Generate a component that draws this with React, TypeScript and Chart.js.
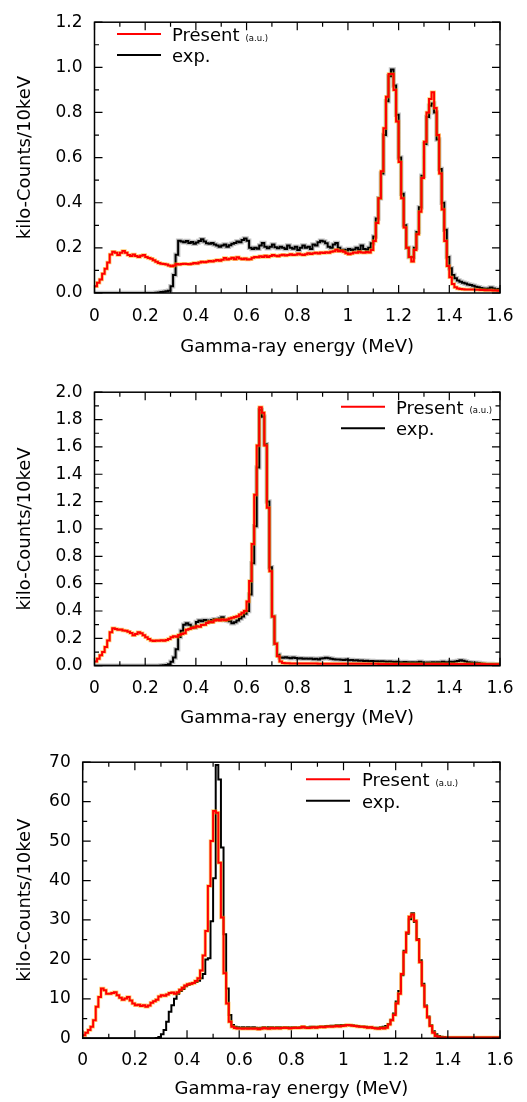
import React, { useEffect, useRef } from "react";
import { Chart, registerables } from "chart.js";

Chart.register(...registerables);

const FONT = '"DejaVu Sans", "Liberation Sans", sans-serif';
const BIN_MEV = 0.01;
const X_MAX = 1.6;

const xTitle = "Gamma-ray energy (MeV)";
const yTitle = "kilo-Counts/10keV";
const seriesNames = ["Present", "exp."];
const unitNote = "(a.u.)";

// ---------- panel 1 (kilo-counts per 10 keV bin, bins start at 0.00 MeV) ----------
const present1 = [
  0.030, 0.045, 0.060, 0.085, 0.107, 0.135, 0.171, 0.183, 0.178, 0.168,
  0.178, 0.186, 0.178, 0.168, 0.164, 0.171, 0.164, 0.160, 0.165, 0.168,
  0.160, 0.155, 0.152, 0.145, 0.138, 0.133, 0.130, 0.128, 0.126, 0.122,
  0.118, 0.122, 0.128, 0.126, 0.128, 0.130, 0.128, 0.127, 0.130, 0.133,
  0.131, 0.135, 0.138, 0.136, 0.139, 0.142, 0.140, 0.143, 0.146, 0.143,
  0.147, 0.155, 0.148, 0.152, 0.156, 0.150, 0.158, 0.153, 0.150, 0.153,
  0.148, 0.150, 0.156, 0.160, 0.158, 0.163, 0.160, 0.165, 0.160, 0.164,
  0.168, 0.165, 0.163, 0.167, 0.170, 0.166, 0.168, 0.172, 0.168, 0.170,
  0.174, 0.171, 0.168, 0.172, 0.176, 0.173, 0.176, 0.178, 0.175, 0.179,
  0.177, 0.181, 0.178, 0.183, 0.185, 0.192, 0.185, 0.187, 0.183, 0.176,
  0.172, 0.175, 0.180, 0.178, 0.183, 0.180, 0.178, 0.182, 0.180, 0.190,
  0.230, 0.310, 0.420, 0.540, 0.730, 0.870, 0.970, 0.970, 0.900, 0.760,
  0.580, 0.420, 0.290, 0.200, 0.160, 0.140, 0.190, 0.260, 0.360, 0.510,
  0.670, 0.800, 0.860, 0.890, 0.820, 0.700, 0.530, 0.370, 0.230, 0.120,
  0.070, 0.040, 0.025, 0.020, 0.018, 0.017, 0.016, 0.016, 0.015, 0.015,
  0.014, 0.014, 0.013, 0.013, 0.012, 0.012, 0.012, 0.011, 0.011, 0.010,
];
const exp1 = [
  0, 0, 0, 0, 0, 0, 0, 0, 0, 0,
  0, 0, 0, 0, 0, 0, 0, 0, 0, 0,
  0, 0, 0, 0, 0.001, 0.002, 0.004, 0.006, 0.008, 0.010,
  0.030, 0.080, 0.170, 0.232, 0.228, 0.225, 0.230, 0.222, 0.226, 0.218,
  0.224, 0.230, 0.238, 0.228, 0.220, 0.218, 0.222, 0.215, 0.210, 0.205,
  0.210, 0.215, 0.205, 0.212, 0.218, 0.222, 0.228, 0.225, 0.235, 0.242,
  0.232, 0.200, 0.195, 0.200, 0.196, 0.210, 0.222, 0.205, 0.198, 0.205,
  0.215, 0.203, 0.198, 0.205, 0.200, 0.195, 0.210, 0.200, 0.196, 0.205,
  0.190, 0.200, 0.210, 0.200, 0.205, 0.195, 0.215, 0.210, 0.225, 0.232,
  0.228, 0.220, 0.205, 0.200, 0.215, 0.222, 0.200, 0.190, 0.192, 0.188,
  0.195, 0.190, 0.193, 0.200, 0.192, 0.210, 0.195, 0.192, 0.200, 0.220,
  0.250, 0.330, 0.420, 0.530, 0.700, 0.850, 0.960, 0.990, 0.920, 0.790,
  0.600, 0.440, 0.300, 0.200, 0.160, 0.160, 0.200, 0.270, 0.380, 0.520,
  0.660, 0.780, 0.830, 0.840, 0.800, 0.680, 0.550, 0.400, 0.280, 0.160,
  0.110, 0.080, 0.065, 0.055, 0.050, 0.045, 0.042, 0.038, 0.035, 0.032,
  0.028, 0.025, 0.022, 0.020, 0.018, 0.020, 0.024, 0.020, 0.016, 0.018,
];

// ---------- panel 2 ----------
const present2 = [
  0.030, 0.050, 0.077, 0.100, 0.137, 0.185, 0.245, 0.273, 0.268, 0.262,
  0.265, 0.258, 0.255, 0.248, 0.240, 0.222, 0.232, 0.245, 0.238, 0.222,
  0.208, 0.196, 0.185, 0.180, 0.185, 0.182, 0.186, 0.183, 0.188, 0.196,
  0.208, 0.215, 0.212, 0.225, 0.232, 0.238, 0.262, 0.268, 0.275, 0.280,
  0.288, 0.285, 0.298, 0.300, 0.312, 0.322, 0.318, 0.330, 0.336, 0.330,
  0.338, 0.332, 0.338, 0.345, 0.350, 0.356, 0.362, 0.375, 0.388, 0.400,
  0.470, 0.620, 0.890, 1.250, 1.610, 1.890, 1.850, 1.610, 1.155, 0.690,
  0.360, 0.160, 0.070, 0.030, 0.020, 0.018, 0.018, 0.017, 0.017, 0.017,
  0.017, 0.017, 0.016, 0.016, 0.016, 0.016, 0.016, 0.016, 0.015, 0.015,
  0.015, 0.015, 0.015, 0.015, 0.015, 0.015, 0.015, 0.015, 0.015, 0.015,
  0.015, 0.015, 0.015, 0.014, 0.014, 0.014, 0.014, 0.014, 0.014, 0.014,
  0.014, 0.014, 0.013, 0.013, 0.013, 0.013, 0.013, 0.013, 0.013, 0.013,
  0.013, 0.013, 0.013, 0.013, 0.013, 0.013, 0.013, 0.013, 0.013, 0.013,
  0.013, 0.013, 0.013, 0.013, 0.012, 0.012, 0.012, 0.012, 0.012, 0.012,
  0.012, 0.012, 0.012, 0.012, 0.012, 0.012, 0.012, 0.012, 0.012, 0.012,
  0.012, 0.012, 0.012, 0.012, 0.011, 0.011, 0.011, 0.011, 0.011, 0.011,
];
const exp2 = [
  0, 0, 0, 0, 0, 0, 0, 0, 0, 0,
  0, 0, 0, 0, 0, 0, 0, 0, 0, 0,
  0, 0, 0, 0, 0, 0, 0.001, 0.003, 0.005, 0.010,
  0.028, 0.060, 0.120, 0.210, 0.255, 0.300, 0.310, 0.300, 0.285, 0.280,
  0.320, 0.330, 0.325, 0.335, 0.330, 0.322, 0.335, 0.340, 0.338, 0.345,
  0.355, 0.335, 0.330, 0.325, 0.310, 0.318, 0.330, 0.345, 0.360, 0.380,
  0.400, 0.520, 0.750, 1.020, 1.450, 1.870, 1.820, 1.620, 1.200, 0.720,
  0.360, 0.160, 0.080, 0.060, 0.058, 0.062, 0.058, 0.055, 0.060, 0.056,
  0.052, 0.055, 0.050, 0.053, 0.050, 0.052, 0.048, 0.050, 0.046, 0.052,
  0.055, 0.058, 0.054, 0.050, 0.048, 0.045, 0.046, 0.044, 0.042, 0.045,
  0.040, 0.042, 0.038, 0.040, 0.036, 0.038, 0.035, 0.036, 0.033, 0.035,
  0.032, 0.033, 0.030, 0.032, 0.030, 0.028, 0.030, 0.028, 0.027, 0.028,
  0.026, 0.025, 0.027, 0.025, 0.024, 0.025, 0.023, 0.026, 0.028, 0.024,
  0.022, 0.024, 0.022, 0.025, 0.023, 0.026, 0.024, 0.028, 0.025, 0.026,
  0.028, 0.027, 0.030, 0.035, 0.040, 0.036, 0.030, 0.026, 0.024, 0.022,
  0.022, 0.020, 0.016, 0.014, 0.013, 0.012, 0.012, 0.011, 0.011, 0.010,
];

// ---------- panel 3 ----------
const present3 = [
  0.8, 1.4, 2.1, 2.9, 4.6, 8.0, 10.5, 12.6, 12.2, 11.3,
  11.3, 11.5, 11.7, 10.9, 10.3, 9.8, 10.1, 10.5, 9.6, 8.8,
  8.4, 8.5, 8.2, 8.4, 8.0, 8.3, 9.0, 9.4, 9.8, 10.6,
  10.9, 10.8, 11.1, 11.5, 11.6, 11.3, 11.7, 12.3, 12.8, 13.4,
  13.7, 13.8, 14.0, 14.5, 15.2, 17.2, 21.0, 27.2, 38.6, 50.0,
  57.6, 57.2, 44.5, 30.6, 16.5, 8.8, 4.2, 2.9, 2.6, 2.5,
  2.5, 2.4, 2.5, 2.4, 2.5, 2.4, 2.5, 2.3, 2.4, 2.6,
  2.5, 2.4, 2.6, 2.5, 2.6, 2.5, 2.6, 2.7, 2.6, 2.5,
  2.6, 2.7, 2.6, 2.7, 2.9, 2.7, 2.6, 2.7, 2.8, 2.7,
  2.8, 2.9, 2.8, 2.9, 3.0, 2.9, 3.0, 3.1, 3.0, 3.1,
  3.2, 3.4, 3.3, 3.2, 3.1, 3.0, 2.9, 2.9, 2.8, 2.7,
  2.8, 2.6, 2.5, 2.4, 2.6, 2.5, 2.7, 3.5, 4.6, 5.9,
  8.8, 11.3, 16.3, 21.8, 26.8, 30.8, 31.4, 29.8, 24.9, 19.3,
  13.4, 8.0, 5.3, 3.1, 1.4, 0.6, 0.3, 0.2, 0.2, 0.2,
  0.2, 0.2, 0.2, 0.2, 0.2, 0.2, 0.2, 0.2, 0.2, 0.2,
  0.2, 0.2, 0.2, 0.2, 0.2, 0.2, 0.2, 0.2, 0.2, 0.2,
];
const exp3 = [
  0, 0, 0, 0, 0, 0, 0, 0, 0, 0,
  0, 0, 0, 0, 0, 0, 0, 0, 0, 0,
  0, 0, 0, 0, 0, 0, 0, 0, 0.1, 0.3,
  1.0, 2.1, 4.2, 6.7, 8.4, 10.0, 11.3, 12.0, 12.5, 13.2,
  13.5, 13.8, 14.0, 14.3, 14.6, 15.2, 16.3, 20.0, 20.3, 29.7,
  40.6, 69.3, 65.6, 48.4, 26.4, 12.6, 5.9, 3.4, 2.9, 2.8,
  2.7, 2.8, 2.7, 2.8, 2.7, 2.8, 2.7, 2.6, 2.7, 2.8,
  2.7, 2.8, 2.8, 2.7, 2.8, 2.8, 2.7, 2.8, 2.8, 2.7,
  2.8, 2.8, 2.7, 2.8, 2.9, 2.8, 2.8, 2.9, 2.9, 2.8,
  2.9, 3.0, 3.0, 3.1, 3.1, 3.2, 3.2, 3.3, 3.3, 3.4,
  3.4, 3.4, 3.3, 3.3, 3.2, 3.1, 3.0, 3.0, 2.9, 2.8,
  2.8, 2.7, 2.7, 2.7, 2.8, 2.9, 3.1, 3.6, 4.7, 6.3,
  9.3, 12.0, 16.0, 22.2, 26.5, 30.2, 31.7, 29.5, 25.2, 19.8,
  13.8, 8.3, 5.5, 3.3, 1.8, 1.0, 0.6, 0.4, 0.3, 0.2,
  0.2, 0.2, 0.2, 0.2, 0.2, 0.2, 0.2, 0.2, 0.2, 0.2,
  0.2, 0.2, 0.2, 0.2, 0.2, 0.2, 0.2, 0.2, 0.2, 0.2,
];

// y-axis tick settings per panel
const yMaxes = [1.2, 2.0, 70];
const ySteps = [0.2, 0.2, 10];
const yMinors = [0.1, 0.1, 5];
const yDecimals = [1, 1, 0];

type Layout = {
  h: number; top: number; left: number; bottom: number; xTitlePad: number; xTickPad: number;
  lg: { x0: number; x1: number; yRed: number; yBlack: number; textX: number };
  expHalo: boolean;
};

const layouts: Layout[] = [
  { h: 370, top: 15, left: 94.5, bottom: 293, xTitlePad: 12, xTickPad: 13,
    lg: { x0: 117, x1: 161, yRed: 34, yBlack: 55, textX: 172 }, expHalo: true },
  { h: 370, top: 17.3, left: 94.5, bottom: 295.7, xTitlePad: 11, xTickPad: 13,
    lg: { x0: 341, x1: 385, yRed: 36.7, yBlack: 58.3, textX: 396 }, expHalo: true },
  { h: 362, top: 20, left: 82.7, bottom: 298.3, xTitlePad: 1.5, xTickPad: 12,
    lg: { x0: 306, x1: 350, yRed: 39.3, yBlack: 60.7, textX: 362 }, expHalo: false },
];

function toPoints(vals: number[]) {
  const pts = vals.map((v, i) => ({ x: i * BIN_MEV, y: v }));
  pts.push({ x: vals.length * BIN_MEV, y: vals[vals.length - 1] });
  return pts;
}

const framePlugin = {
  id: "frameTicks",
  afterDatasetsDraw(chart: any, _args: any, opts: any) {
    const { ctx, chartArea } = chart;
    const { left, right, top, bottom } = chartArea;
    const xs = chart.scales.x;
    const ys = chart.scales.y;
    ctx.save();
    ctx.strokeStyle = "#000";
    ctx.lineWidth = 1.5;
    ctx.strokeRect(left, top, right - left, bottom - top);
    ctx.lineWidth = 1.2;
    const major = 8, minor = 4.5;
    // x ticks every 0.1 MeV
    for (let k = 0; k <= 16; k++) {
      const v = k * 0.1;
      const px = xs.getPixelForValue(v);
      const len = k % 2 === 0 ? major : minor;
      ctx.beginPath();
      ctx.moveTo(px, bottom); ctx.lineTo(px, bottom - len);
      ctx.moveTo(px, top); ctx.lineTo(px, top + len);
      ctx.stroke();
    }
    const n = Math.round(opts.yMax / opts.yMinor);
    for (let k = 0; k <= n; k++) {
      const v = k * opts.yMinor;
      const py = ys.getPixelForValue(v);
      const len = k % 2 === 0 ? major : minor;
      ctx.beginPath();
      ctx.moveTo(left, py); ctx.lineTo(left + len, py);
      ctx.moveTo(right, py); ctx.lineTo(right - len, py);
      ctx.stroke();
    }
    ctx.restore();
  },
};

const legendPlugin = {
  id: "customLegend",
  afterDraw(chart: any, _args: any, opts: any) {
    const { ctx } = chart;
    const lg = opts.lg;
    ctx.save();
    ctx.lineWidth = 2;
    ctx.strokeStyle = "#ff0000";
    ctx.beginPath(); ctx.moveTo(lg.x0, lg.yRed); ctx.lineTo(lg.x1, lg.yRed); ctx.stroke();
    ctx.strokeStyle = "#000";
    ctx.beginPath(); ctx.moveTo(lg.x0, lg.yBlack); ctx.lineTo(lg.x1, lg.yBlack); ctx.stroke();
    ctx.fillStyle = "#000";
    ctx.textBaseline = "alphabetic";
    ctx.textAlign = "left";
    ctx.font = `18px ${FONT}`;
    ctx.fillText(seriesNames[0], lg.textX, lg.yRed + 7);
    const w = ctx.measureText(seriesNames[0]).width;
    ctx.fillText(seriesNames[1], lg.textX, lg.yBlack + 7);
    ctx.font = `8.5px ${FONT}`;
    ctx.fillText(unitNote, lg.textX + w + 6, lg.yRed + 6.5);
    ctx.restore();
  },
};

function Panel({ idx, present, exp }: { idx: number; present: number[]; exp: number[] }) {
  const ref = useRef<HTMLCanvasElement | null>(null);
  useEffect(() => {
    if (!ref.current) return;
    const L = layouts[idx];
    const base = { stepped: "before" as const, pointRadius: 0, fill: false, tension: 0 };
    const datasets: any[] = [
      { ...base, label: "Present", data: toPoints(present), borderColor: "#ff0000", borderWidth: 2 },
      { ...base, label: "Present err", data: toPoints(present), borderColor: "rgba(255,165,0,0.55)", borderWidth: 3.5 },
      { ...base, label: "exp.", data: toPoints(exp), borderColor: "#000000", borderWidth: 2 },
    ];
    if (L.expHalo) {
      datasets.push({ ...base, label: "exp err", data: toPoints(exp), borderColor: "rgba(120,120,120,0.45)", borderWidth: 4.5 });
    }
    const chart = new Chart(ref.current, {
      type: "line",
      data: { datasets },
      options: {
        animation: false,
        responsive: false,
        events: [],
        layout: { padding: { left: 0, right: 27, top: L.top, bottom: 0 } },
        plugins: {
          legend: { display: false },
          tooltip: { enabled: false },
          frameTicks: { yMax: yMaxes[idx], yMinor: yMinors[idx] },
          customLegend: { lg: L.lg },
        } as any,
        scales: {
          x: {
            type: "linear",
            min: 0,
            max: X_MAX,
            afterFit: (s: any) => { s.height = L.h - L.bottom; },
            grid: { display: false, drawTicks: false },
            border: { display: false },
            ticks: {
              stepSize: 0.2,
              autoSkip: false,
              maxRotation: 0,
              padding: L.xTickPad,
              color: "#000",
              font: { family: FONT, size: 17 },
              callback: (v: any) => String(Number(Number(v).toFixed(1))),
            },
            title: {
              display: true,
              text: xTitle,
              color: "#000",
              font: { family: FONT, size: 18 },
              padding: { top: 0, bottom: L.xTitlePad },
            },
          },
          y: {
            type: "linear",
            min: 0,
            max: yMaxes[idx],
            afterFit: (s: any) => { s.width = L.left; },
            grid: { display: false, drawTicks: false },
            border: { display: false },
            ticks: {
              stepSize: ySteps[idx],
              padding: 12,
              color: "#000",
              font: { family: FONT, size: 17 },
              callback: (v: any) => Number(v).toFixed(yDecimals[idx]),
            },
            title: {
              display: true,
              text: yTitle,
              color: "#000",
              font: { family: FONT, size: 18 },
              padding: { top: 15, bottom: 0 },
            },
          },
        },
      } as any,
      plugins: [framePlugin, legendPlugin],
    });
    return () => chart.destroy();
  }, [idx, present, exp]);
  const L = layouts[idx];
  return <canvas ref={ref} width={527} height={L.h} style={{ display: "block", width: 527, height: L.h }} />;
}

export default function App() {
  return (
    <div style={{ position: "absolute", left: 0, top: 0, width: 527, height: 1102, background: "#fff" }}>
      <Panel idx={0} present={present1} exp={exp1} />
      <Panel idx={1} present={present2} exp={exp2} />
      <Panel idx={2} present={present3} exp={exp3} />
    </div>
  );
}
